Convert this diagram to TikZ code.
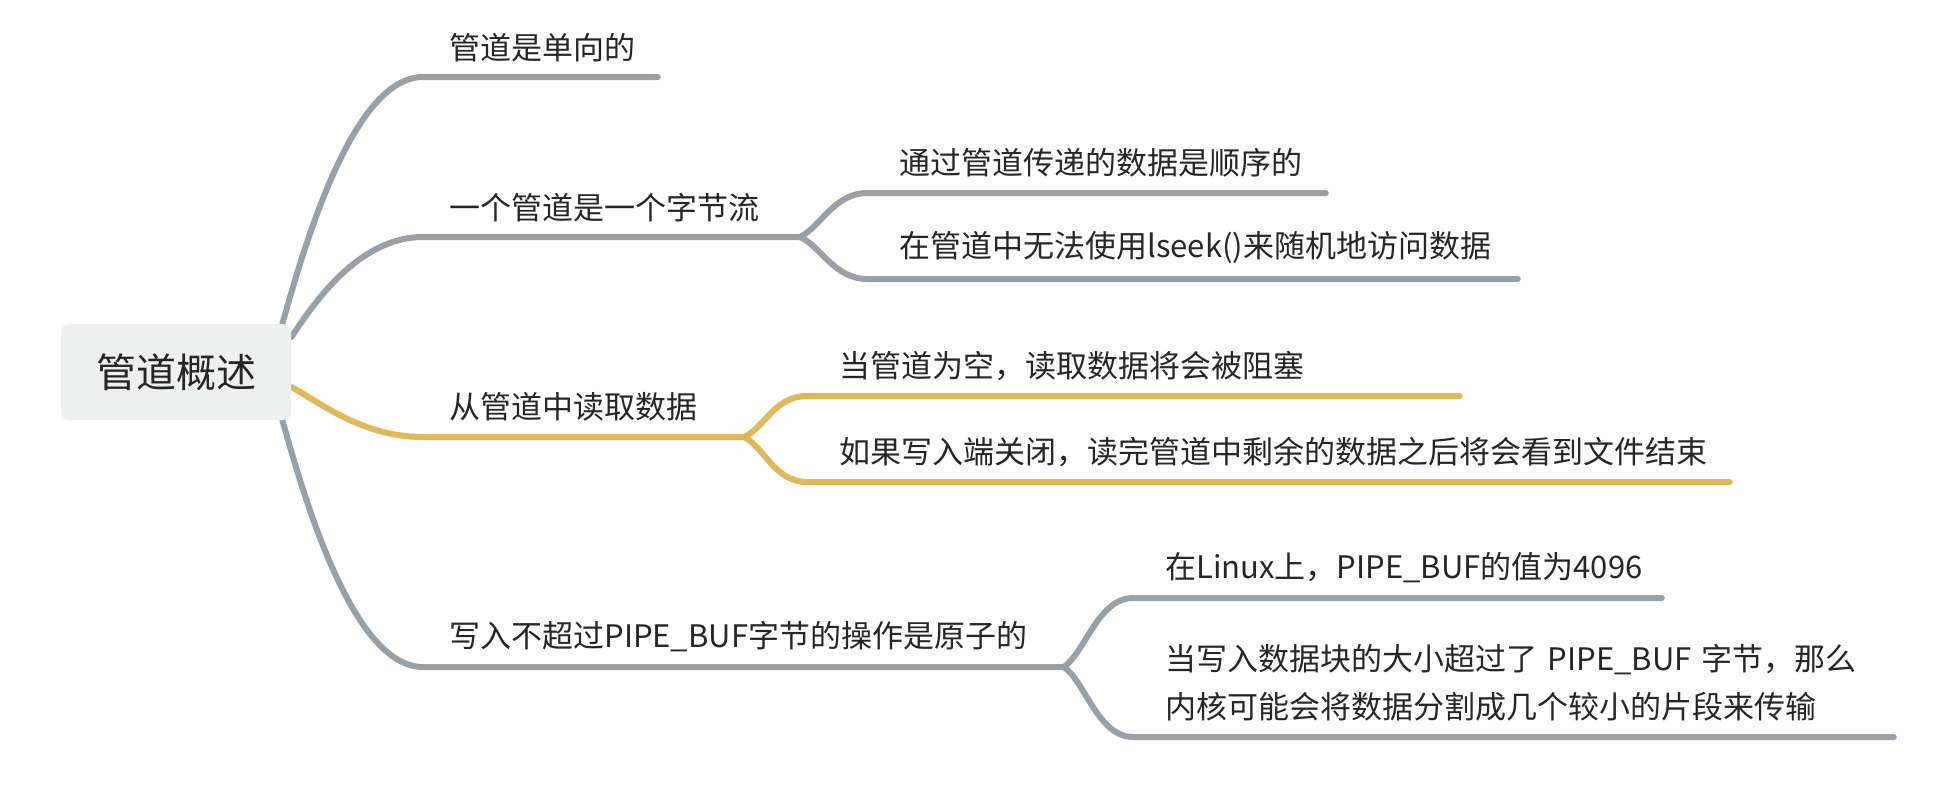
\documentclass[tikz,border=0pt]{standalone}
\usepackage{fontspec}
\setmainfont{Noto Sans CJK SC}
\usetikzlibrary{backgrounds}

\definecolor{edgegray}{RGB}{152,160,170}
\definecolor{edgegold}{RGB}{224,184,90}
\definecolor{rootfill}{RGB}{238,240,239}
\definecolor{inkdark}{RGB}{38,38,38}

\begin{document}
\begin{tikzpicture}[
    x=0.5pt,
    y=-0.5pt,
    rootbox/.style={fill=rootfill,rounded corners=4pt,minimum width=115pt,minimum height=48pt,
        text=inkdark,font=\fontsize{20pt}{24pt}\selectfont},
    maintopic/.style={anchor=south west,inner xsep=13pt,inner ysep=7.5pt,align=left,
        text=inkdark,font=\fontsize{15.5pt}{24pt}\selectfont},
    subtopic/.style={maintopic,inner xsep=16pt},
    grayedge/.style={edgegray,line width=3pt,line cap=round},
    goldedge/.style={edgegold,line width=3pt,line cap=round}
]
    \useasboundingbox (0,0) rectangle (1941,787);

    % Zentrum
    \node[rootbox] (root) at (176,372) {管道概述};

    % Erste Ebene
    \node[maintopic,text width=91pt] (oneway) at (423,77) {管道是单向的};
    \node[maintopic,text width=162pt] (stream) at (423,237) {一个管道是一个字节流};
    \node[maintopic,text width=134pt] (reading) at (423,437) {从管道中读取数据};
    \node[maintopic,text width=294pt] (atomic) at (423,667) {写入不超过PIPE\_BUF字节的操作是原子的};

    % Zweite Ebene
    \node[subtopic,text width=197pt] (ordered) at (867,193) {通过管道传递的数据是顺序的};
    \node[subtopic,text width=293pt] (noseek) at (867,279) {在管道中无法使用lseek()来随机地访问数据};
    \node[subtopic,text width=294pt] (blocked) at (807,396) {当管道为空，读取数据将会被阻塞};
    \node[subtopic,text width=429pt] (eof) at (807,482) {如果写入端关闭，读完管道中剩余的数据之后将会看到文件结束};
    \node[subtopic,text width=232pt] (bufsize) at (1133,598) {在Linux上，PIPE\_BUF的值为4096};
    \node[subtopic,text width=348pt] (split) at (1133,737)
        {当写入数据块的大小超过了 PIPE\_BUF 字节，那么\\内核可能会将数据分割成几个较小的片段来传输};

    \begin{pgfonlayer}{background}
        \fill[white] (0,0) rectangle (1941,787);

        % Aeste vom Zentrum
        \draw[grayedge] ([xshift=-4.5pt]root.north east)
            .. controls +(21,-74) and +(-71,0) .. (oneway.south west) -- (oneway.south east);
        \draw[grayedge] ([yshift=17.5pt]root.east)
            .. controls +(20,-30) and +(-66,0) .. (stream.south west) -- (stream.south east);
        \draw[goldedge] ([yshift=-7.5pt]root.east)
            .. controls +(29,16) and +(-60,0) .. (reading.south west) -- (reading.south east);
        \draw[grayedge] ([xshift=-4.5pt]root.south east)
            .. controls +(21,74) and +(-71,0) .. (atomic.south west) -- (atomic.south east);

        % Verzweigungen
        \draw[grayedge] (stream.south east)
            .. controls +(20,-9) and +(-33,0) .. (ordered.south west) -- (ordered.south east);
        \draw[grayedge] (stream.south east)
            .. controls +(20,8) and +(-33,0) .. (noseek.south west) -- (noseek.south east);
        \draw[goldedge] (reading.south east)
            .. controls +(20,-8) and +(-33,0) .. (blocked.south west) -- (blocked.south east);
        \draw[goldedge] (reading.south east)
            .. controls +(20,9) and +(-33,0) .. (eof.south west) -- (eof.south east);
        \draw[grayedge] (atomic.south east)
            .. controls +(21,-14) and +(-35,0) .. (bufsize.south west) -- (bufsize.south east);
        \draw[grayedge] (atomic.south east)
            .. controls +(21,14) and +(-35,0) .. (split.south west) -- (split.south east);
    \end{pgfonlayer}
\end{tikzpicture}
\end{document}
